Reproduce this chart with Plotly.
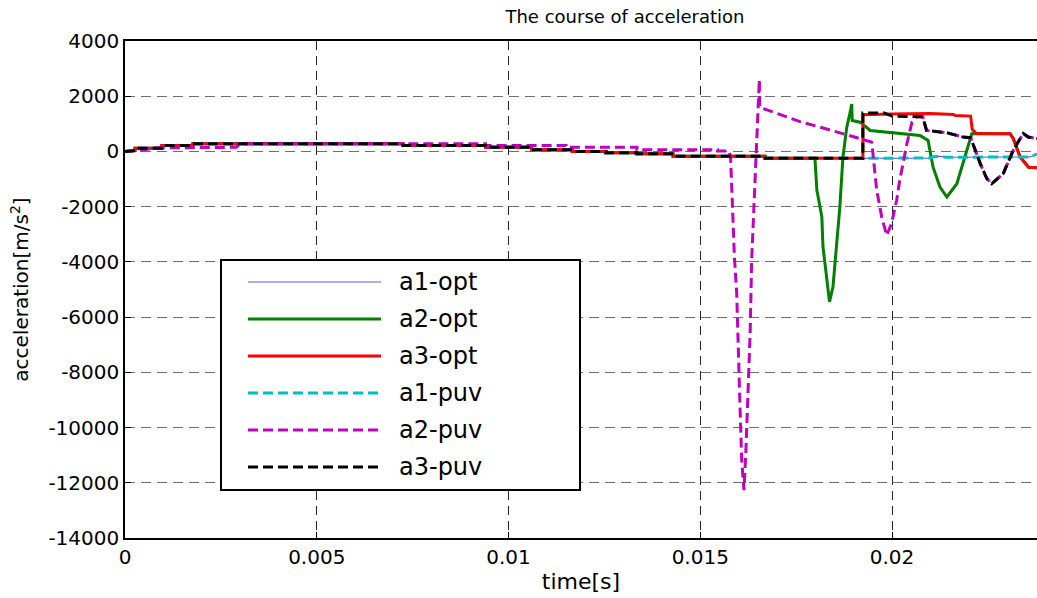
import plotly.graph_objects as go

# ---------------- data ----------------
# shared initial segment (all "a1", "a3" and a2-opt coincide here)
t_common = [0, 0.00026, 0.00026, 0.00096, 0.00096, 0.00177, 0.00177, 0.00725, 0.00725,
            0.0094, 0.0094, 0.0106, 0.0106, 0.01166, 0.01166, 0.01254, 0.01254,
            0.01335, 0.01335, 0.01429, 0.01429, 0.01669, 0.01669]
a_common = [0, 30, 120, 120, 217, 217, 280, 280, 217,
            217, 155, 155, 60, 60, 0, 0, -50,
            -50, -85, -85, -170, -170, -250]

# a1 (opt and puv) tail
t_a1_tail = [0.01924, 0.0210, 0.02112, 0.02125, 0.0214, 0.0236, 0.02378]
a_a1_tail = [-250, -240, -180, -180, -210, -200, -90]

# a2-opt tail
t_a2opt_tail = [0.01799, 0.01804, 0.01817, 0.0182, 0.0183, 0.01837, 0.01846, 0.01856,
                0.01864, 0.01872, 0.01882, 0.0189, 0.01895, 0.01896, 0.01917, 0.01943,
                0.0202, 0.02073, 0.02094, 0.02107, 0.02125, 0.02143, 0.02169, 0.0219,
                0.02208, 0.0222, 0.02308, 0.02316, 0.02334, 0.02356, 0.02378]
a_a2opt_tail = [-250, -1400, -2370, -3460, -4540, -5450, -4900, -3220,
                -2000, -200, 880, 1370, 1720, 1120, 1060, 760,
                650, 580, 400, -570, -1290, -1650, -1170, -200,
                640, 650, 640, 470, -200, -570, -590]

# a3-opt tail
t_a3opt_tail = [0.01924, 0.01924, 0.0200, 0.0210, 0.0216, 0.02165, 0.02205, 0.02209,
                0.0222, 0.02308, 0.02316, 0.02334, 0.02356, 0.02378]
a_a3opt_tail = [-250, 1330, 1360, 1370, 1340, 1300, 1280, 800,
                650, 640, 470, -200, -570, -590]

# a3-puv tail
t_a3puv_tail = [0.01924, 0.01924, 0.0198, 0.0200, 0.02065, 0.0208, 0.0209, 0.02143,
                0.02185, 0.02205, 0.0223, 0.02247, 0.0226, 0.0229, 0.02316, 0.02342,
                0.02355, 0.02378]
a_a3puv_tail = [-250, 1390, 1390, 1280, 1260, 1260, 760, 680,
                520, 500, -440, -980, -1170, -800, 40, 650,
                520, 470]

# a2-puv (own path until it joins a3-puv)
t_a2puv = [0, 0.0005, 0.0008, 0.0029, 0.0030, 0.0094, 0.0094, 0.0115, 0.0115,
           0.01335, 0.01335, 0.01545, 0.01545, 0.01575, 0.01579, 0.01585, 0.01589,
           0.01595, 0.01599, 0.01604, 0.01608, 0.01614, 0.01619, 0.01625, 0.0163,
           0.01634, 0.0164, 0.01647, 0.01654, 0.01655, 0.0170, 0.0176, 0.0182,
           0.0187, 0.01926, 0.01947, 0.0196, 0.01973, 0.01986, 0.01999, 0.02012,
           0.0202, 0.02039, 0.02052, 0.02065]
a_a2puv = [0, 60, 130, 150, 280, 280, 217, 217, 155,
           155, 60, 60, 20, 20, -200, -2500, -3820,
           -5140, -7560, -9430, -11170, -12270, -10820, -8770, -6600,
           -3950, -1890, -85, 2600, 1600, 1380, 1080, 850,
           650, 400, 340, -1400, -2370, -3040, -2600, -1770,
           -1050, 290, 1060, 1260]

x_ticks = [0, 0.005, 0.01, 0.015, 0.02]
x_tick_text = ["0", "0.005", "0.01", "0.015", "0.02"]
y_ticks = [-14000, -12000, -10000, -8000, -6000, -4000, -2000, 0, 2000, 4000]
y_tick_text = [str(v) for v in y_ticks]

series_names = ["a1-opt", "a2-opt", "a3-opt", "a1-puv", "a2-puv", "a3-puv"]
series_colors = ["#5a5aff", "#008000", "#ff0000", "#00bfbf", "#bf00bf", "#000000"]
series_widths = [1.2, 3, 3, 3, 3, 3]
DASH = "10px,5px"
series_dash = ["solid", "solid", "solid", DASH, DASH, DASH]

# ---------------- build series ----------------
t_a1 = t_common + t_a1_tail
a_a1 = a_common + a_a1_tail
t_a2o = t_common + t_a2opt_tail
a_a2o = a_common + a_a2opt_tail
t_a3o = t_common + t_a3opt_tail
a_a3o = a_common + a_a3opt_tail
t_a3p = t_common + t_a3puv_tail
a_a3p = a_common + a_a3puv_tail
# a2-puv joins a3-puv after 0.02065
t_a2p = t_a2puv + [t for t in t_a3p if t > 0.02065]
a_a2p = a_a2puv + [a for t, a in zip(t_a3p, a_a3p) if t > 0.02065]

xs = [t_a1, t_a2o, t_a3o, t_a1, t_a2p, t_a3p]
ys = [a_a1, a_a2o, a_a3o, a_a1, a_a2p, a_a3p]

fig = go.Figure()
for x, y, n, c, w, d in zip(xs, ys, series_names, series_colors, series_widths, series_dash):
    fig.add_trace(go.Scatter(x=x, y=y, mode="lines", name=n,
                             line=dict(color=c, width=w, dash=d)))

# ---------------- layout ----------------
W, H = 1037, 598
ML, MR, MT, MB = 125, 0, 41, 60
PW, PH = W - ML - MR, H - MT - MB
FONT = "DejaVu Sans, Liberation Sans, Arial, sans-serif"

def px(x):
    return (x - ML) / PW

def py(y):
    return (H - MB - y) / PH

fig.update_layout(
    width=W, height=H,
    margin=dict(l=ML, r=MR, t=MT, b=MB, pad=0),
    paper_bgcolor="white", plot_bgcolor="white",
    showlegend=False,
    font=dict(family=FONT, size=20, color="black"),
    title=dict(text="The course of acceleration", x=625 / W,
               xanchor="center", y=1 - 17 / H, yanchor="middle",
               font=dict(size=18, family=FONT, color="black")),
)
fig.update_xaxes(
    range=[0, 0.02378], tickvals=x_ticks, ticktext=x_tick_text,
    showline=True, linecolor="black", linewidth=1.5, mirror=True,
    ticks="inside", ticklen=6, tickcolor="black",
    showgrid=True, gridcolor="#262626", gridwidth=1, griddash="9px,6px",
    zeroline=False,
    title=dict(text="time[s]", font=dict(size=22, family=FONT), standoff=6),
    tickfont=dict(size=20, family=FONT),
)
fig.update_yaxes(
    range=[-14000, 4000], tickvals=y_ticks, ticktext=y_tick_text,
    showline=True, linecolor="black", linewidth=1.5, mirror=False,
    ticks="inside", ticklen=6, tickcolor="black",
    showgrid=True, gridcolor="#707070", gridwidth=1, griddash="10px,6px",
    zeroline=False,
    title=dict(text="acceleration[m/s<sup>2</sup>]", font=dict(size=20, family=FONT), standoff=14),
    tickfont=dict(size=20, family=FONT),
)

# ---------------- custom legend (long line samples like the reference) ----------------
box = dict(x0=221, x1=580, y0=260, y1=490)
fig.add_shape(type="rect", xref="paper", yref="paper", layer="above",
              x0=px(box["x0"]), x1=px(box["x1"]), y0=py(box["y1"]), y1=py(box["y0"]),
              line=dict(color="black", width=2), fillcolor="white")
row_y = [282, 319, 356, 393, 430, 467]
for ry, n, c, w, d in zip(row_y, series_names, series_colors, series_widths, series_dash):
    fig.add_shape(type="line", xref="paper", yref="paper", layer="above",
                  x0=px(248), x1=px(381), y0=py(ry), y1=py(ry),
                  line=dict(color=c, width=w, dash=d))
    fig.add_annotation(xref="paper", yref="paper", x=px(397), y=py(ry),
                       xanchor="left", yanchor="middle", showarrow=False,
                       text=n, font=dict(size=24, family=FONT, color="black"))

fig.write_html("out.html")
